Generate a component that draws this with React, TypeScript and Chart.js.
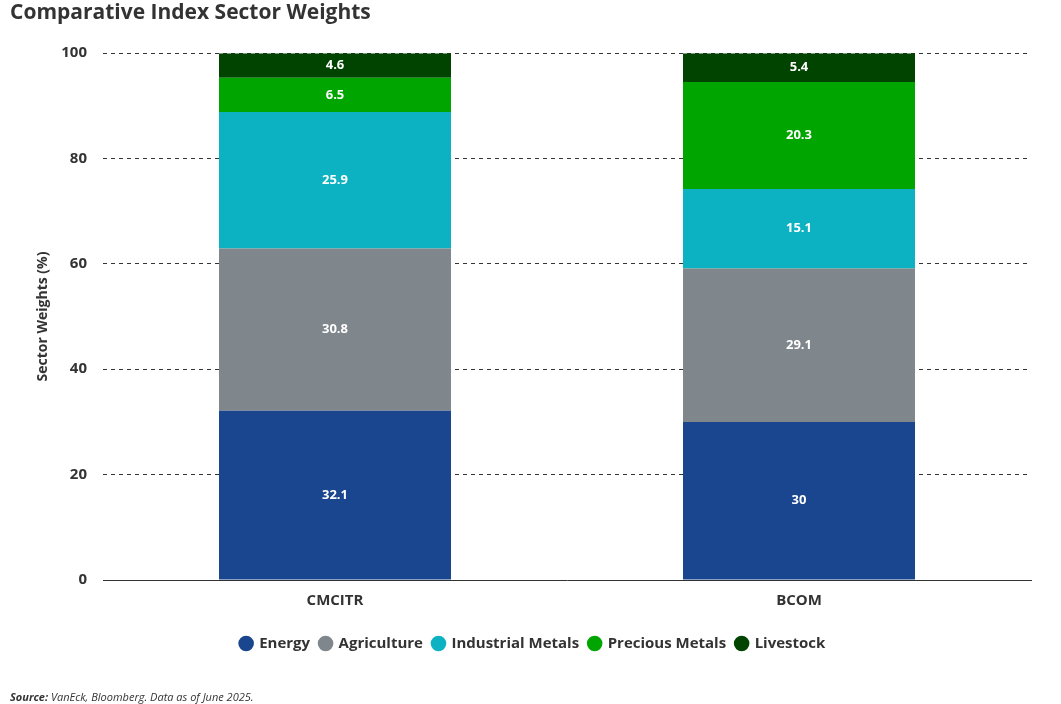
import React, { useEffect, useRef } from "react";
import { Chart, registerables } from "chart.js";

Chart.register(...registerables);

const categories = ["CMCITR", "BCOM"];
const seriesNames = ["Energy", "Agriculture", "Industrial Metals", "Precious Metals", "Livestock"];
const energy = [32.1, 30];
const agriculture = [30.8, 29.1];
const industrialMetals = [25.9, 15.1];
const preciousMetals = [6.5, 20.3];
const livestock = [4.6, 5.4];
const yTicks = [0, 20, 40, 60, 80, 100];
const colors = ["#19468E", "#7F868C", "#0CB2C1", "#00A500", "#004400"];

const FONT = "'Open Sans', sans-serif";

const labelPlugin = {
  id: "segLabels",
  afterDatasetsDraw(chart: any) {
    const ctx = chart.ctx;
    ctx.save();
    ctx.font = `bold 13px ${FONT}`;
    ctx.fillStyle = "#ffffff";
    ctx.textAlign = "center";
    ctx.textBaseline = "middle";
    chart.data.datasets.forEach((ds: any, i: number) => {
      const meta = chart.getDatasetMeta(i);
      meta.data.forEach((el: any, j: number) => {
        const p = el.getCenterPoint();
        ctx.fillText(String(ds.data[j]), p.x, p.y);
      });
    });
    ctx.restore();
  },
};

const textPlugin = {
  id: "titleSource",
  afterDraw(chart: any) {
    const ctx = chart.ctx;
    ctx.save();
    ctx.fillStyle = "#333333";
    ctx.textAlign = "left";
    ctx.textBaseline = "alphabetic";
    ctx.font = `bold 21px ${FONT}`;
    ctx.fillText("Comparative Index Sector Weights", 10, 19);
    ctx.font = `italic bold 11px ${FONT}`;
    ctx.fillText("Source:", 10, 701);
    const w = ctx.measureText("Source: ").width;
    ctx.font = `italic 11px ${FONT}`;
    ctx.fillText("VanEck, Bloomberg. Data as of June 2025.", 10 + w, 701);
    ctx.restore();
  },
};

export default function App() {
  const ref = useRef<HTMLCanvasElement | null>(null);
  useEffect(() => {
    document.body.style.margin = "0";
    if (!ref.current) return;
    const data = [energy, agriculture, industrialMetals, preciousMetals, livestock];
    const chart = new Chart(ref.current, {
      type: "bar",
      data: {
        labels: categories,
        datasets: seriesNames.map((name, i) => ({
          label: name,
          data: data[i],
          backgroundColor: colors[i],
          borderWidth: 0,
          categoryPercentage: 1,
          barPercentage: 0.5,
        })),
      },
      options: {
        animation: false,
        responsive: false,
        maintainAspectRatio: false,
        layout: { padding: { top: 53, right: 30, left: 35, bottom: 43 } },
        scales: {
          x: {
            stacked: true,
            grid: { display: false },
            border: { display: true, color: "#333333", width: 1 },
            ticks: { color: "#333333", font: { family: FONT, size: 15, weight: "bold" }, padding: 4 },
            afterFit: (axis: any) => {
              axis.height += 12;
            },
          },
          y: {
            stacked: true,
            min: 0,
            max: 100,
            afterBuildTicks: (axis: any) => {
              axis.ticks = yTicks.map((v) => ({ value: v }));
            },
            afterFit: (axis: any) => {
              axis.width = 68;
            },
            grid: {
              color: (c: any) => (c.tick && c.tick.value === 0 ? "rgba(0,0,0,0)" : "#333333"),
              drawTicks: false,
            },
            border: { display: false, dash: [4, 4] },
            ticks: { color: "#333333", font: { family: FONT, size: 15, weight: "bold" }, padding: 16 },
            title: {
              display: true,
              text: "Sector Weights (%)",
              color: "#333333",
              font: { family: FONT, size: 14, weight: "bold" },
              padding: { top: 0, bottom: 6 },
            },
          },
        },
        plugins: {
          title: { display: false },
          tooltip: { enabled: false },
          legend: {
            position: "bottom",
            labels: {
              usePointStyle: true,
              pointStyle: "circle",
              boxWidth: 11,
              boxHeight: 11,
              padding: 10,
              color: "#333333",
              font: { family: FONT, size: 15, weight: "bold" },
            },
          },
        },
      } as any,
      plugins: [labelPlugin, textPlugin],
    });
    return () => chart.destroy();
  }, []);
  return <canvas ref={ref} width={1061} height={704} style={{ display: "block" }} />;
}
